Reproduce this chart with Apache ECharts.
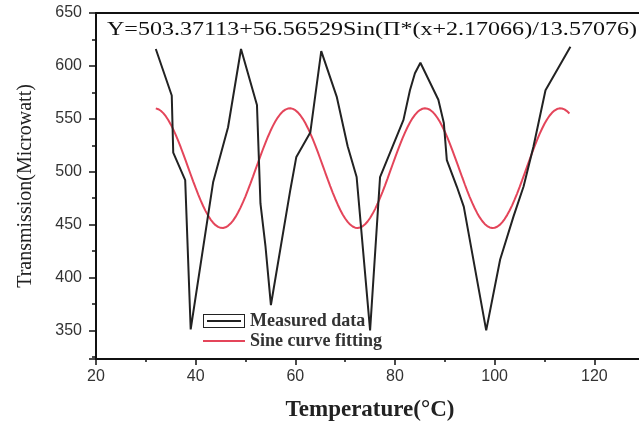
<!DOCTYPE html>
<html>
<head>
<meta charset="utf-8">
<script src="https://cdn.jsdelivr.net/npm/echarts@6/dist/echarts.min.js"></script>
<style>
  html, body { margin: 0; padding: 0; background: #fff; }
  #chart { width: 639px; height: 421px; }
</style>
</head>
<body>
<div id="chart"></div>
<script>
// Measured transmission vs temperature
const temperature = [32.0, 35.2, 35.5, 37.9, 39.0, 43.5, 46.5, 49.1, 52.3, 53.0, 54.0, 55.1,
  59.0, 60.2, 63.0, 65.2, 68.3, 70.5, 72.3, 75.0, 77.0, 81.7, 83.0, 84.0, 85.1, 88.7, 89.8,
  90.4, 92.4, 93.8, 98.3, 101.1, 103.8, 105.8, 107.8, 110.2, 115.2];
const transmission = [616, 572, 518, 492, 351, 490, 542, 616, 563, 470, 430, 374,
  483, 514, 537, 614, 571, 524, 495, 350, 495, 549, 577, 593, 603, 568, 546,
  511, 486, 467, 350, 417, 458, 486, 524, 577, 618];

// Sine fit: Y = y0 + A*Sin(PI*(x+xc)/w)
const fitParams = [503.37113, 56.56529, 2.17066, 13.57076];
const fitRange = [32, 115];
const fitStep = 0.5;

const xTickRange = [20, 140, 20];
const yRange = [323, 650, 50];

const seriesNames = ['Measured data', 'Sine curve fitting'];

const [y0, amp, xc, w] = fitParams;
const fitCurve = [];
for (let x = fitRange[0]; x <= fitRange[1] + 1e-9; x += fitStep) {
  fitCurve.push([x, y0 + amp * Math.sin(Math.PI * (x + xc) / w)]);
}
const measured = temperature.map((t, i) => [t, transmission[i]]);

const equation = `Y=${y0}+${amp}Sin(\u03A0*(x+${xc})/${w})`;

const serif = '"Liberation Serif", "Times New Roman", serif';
const sans = '"Liberation Sans", Arial, sans-serif';

// Stretch the equation horizontally to span the plot top
const eqFont = '19px ' + serif;
const ctx = document.createElement('canvas').getContext('2d');
ctx.font = eqFont;
const eqScale = 530 / ctx.measureText(equation).width;

const chart = echarts.init(document.getElementById('chart'), null, { renderer: 'canvas' });

const axisColor = '#111';
const redColor = '#e4455a';
chart.setOption({
  animation: false,
  backgroundColor: '#fff',
  grid: { left: 96, width: 598, top: 13, height: 346, outerBoundsMode: 'none', containLabel: false },
  legend: {
    orient: 'vertical',
    left: 198,
    top: 307,
    itemWidth: 42,
    itemHeight: 14,
    itemGap: 2,
    symbolKeepAspect: true,
    textStyle: { fontFamily: serif, fontSize: 18, fontWeight: 'bold', color: '#333' },
    data: [
      { name: seriesNames[0], icon: 'path://M0,0H42V14H0Z M1,1V13H41V1Z M4,6H38V8H4Z' },
      { name: seriesNames[1], icon: 'path://M0,0H42V2H0Z' }
    ]
  },
  xAxis: [{
    type: 'value',
    min: xTickRange[0], max: xTickRange[1], interval: xTickRange[2],
    name: 'Temperature(\u00B0C)',
    nameLocation: 'middle',
    nameGap: 40,
    nameTextStyle: { fontFamily: serif, fontSize: 23, fontWeight: 'bold', color: '#222', padding: [0, 50, 0, 0] },
    axisLine: { lineStyle: { color: axisColor, width: 2 } },
    axisTick: { length: 6, lineStyle: { color: axisColor, width: 1.5 } },
    minorTick: { show: true, splitNumber: 2, length: 3, lineStyle: { color: axisColor, width: 1.5 } },
    splitLine: { show: false },
    axisLabel: { fontFamily: sans, fontSize: 16, color: '#333', margin: 10, showMaxLabel: false }
  }, {
    type: 'value',
    position: 'top',
    min: xTickRange[0], max: xTickRange[1],
    axisLine: { lineStyle: { color: axisColor, width: 2 } },
    axisTick: { show: false },
    axisLabel: { show: false },
    splitLine: { show: false }
  }],
  yAxis: {
    type: 'value',
    min: yRange[0], max: yRange[1], minInterval: yRange[2], maxInterval: yRange[2],
    name: 'Transmission(Microwatt)',
    nameLocation: 'middle',
    nameGap: 60,
    nameTextStyle: { fontFamily: serif, fontSize: 20, color: '#222' },
    axisLine: { show: true, lineStyle: { color: axisColor, width: 2 } },
    axisTick: { show: true, length: 7, lineStyle: { color: axisColor, width: 1.5 } },
    minorTick: { show: true, splitNumber: 2, length: 4, lineStyle: { color: axisColor, width: 1.5 } },
    splitLine: { show: false },
    axisLabel: { fontFamily: sans, fontSize: 16, color: '#333', margin: 14, showMinLabel: false }
  },
  graphic: [{
    type: 'text',
    x: 107,
    y: 30,
    scaleX: eqScale,
    style: { text: equation, font: eqFont, fill: '#111', verticalAlign: 'middle', align: 'left' }
  }],
  series: [{
    name: seriesNames[0],
    type: 'line',
    data: measured,
    showSymbol: false,
    symbol: 'none',
    lineStyle: { color: '#222', width: 2 },
    itemStyle: { color: '#222' },
    z: 3
  }, {
    name: seriesNames[1],
    type: 'line',
    data: fitCurve,
    showSymbol: false,
    symbol: 'none',
    lineStyle: { color: redColor, width: 2 },
    itemStyle: { color: redColor },
    z: 2
  }]
});
</script>
</body>
</html>
